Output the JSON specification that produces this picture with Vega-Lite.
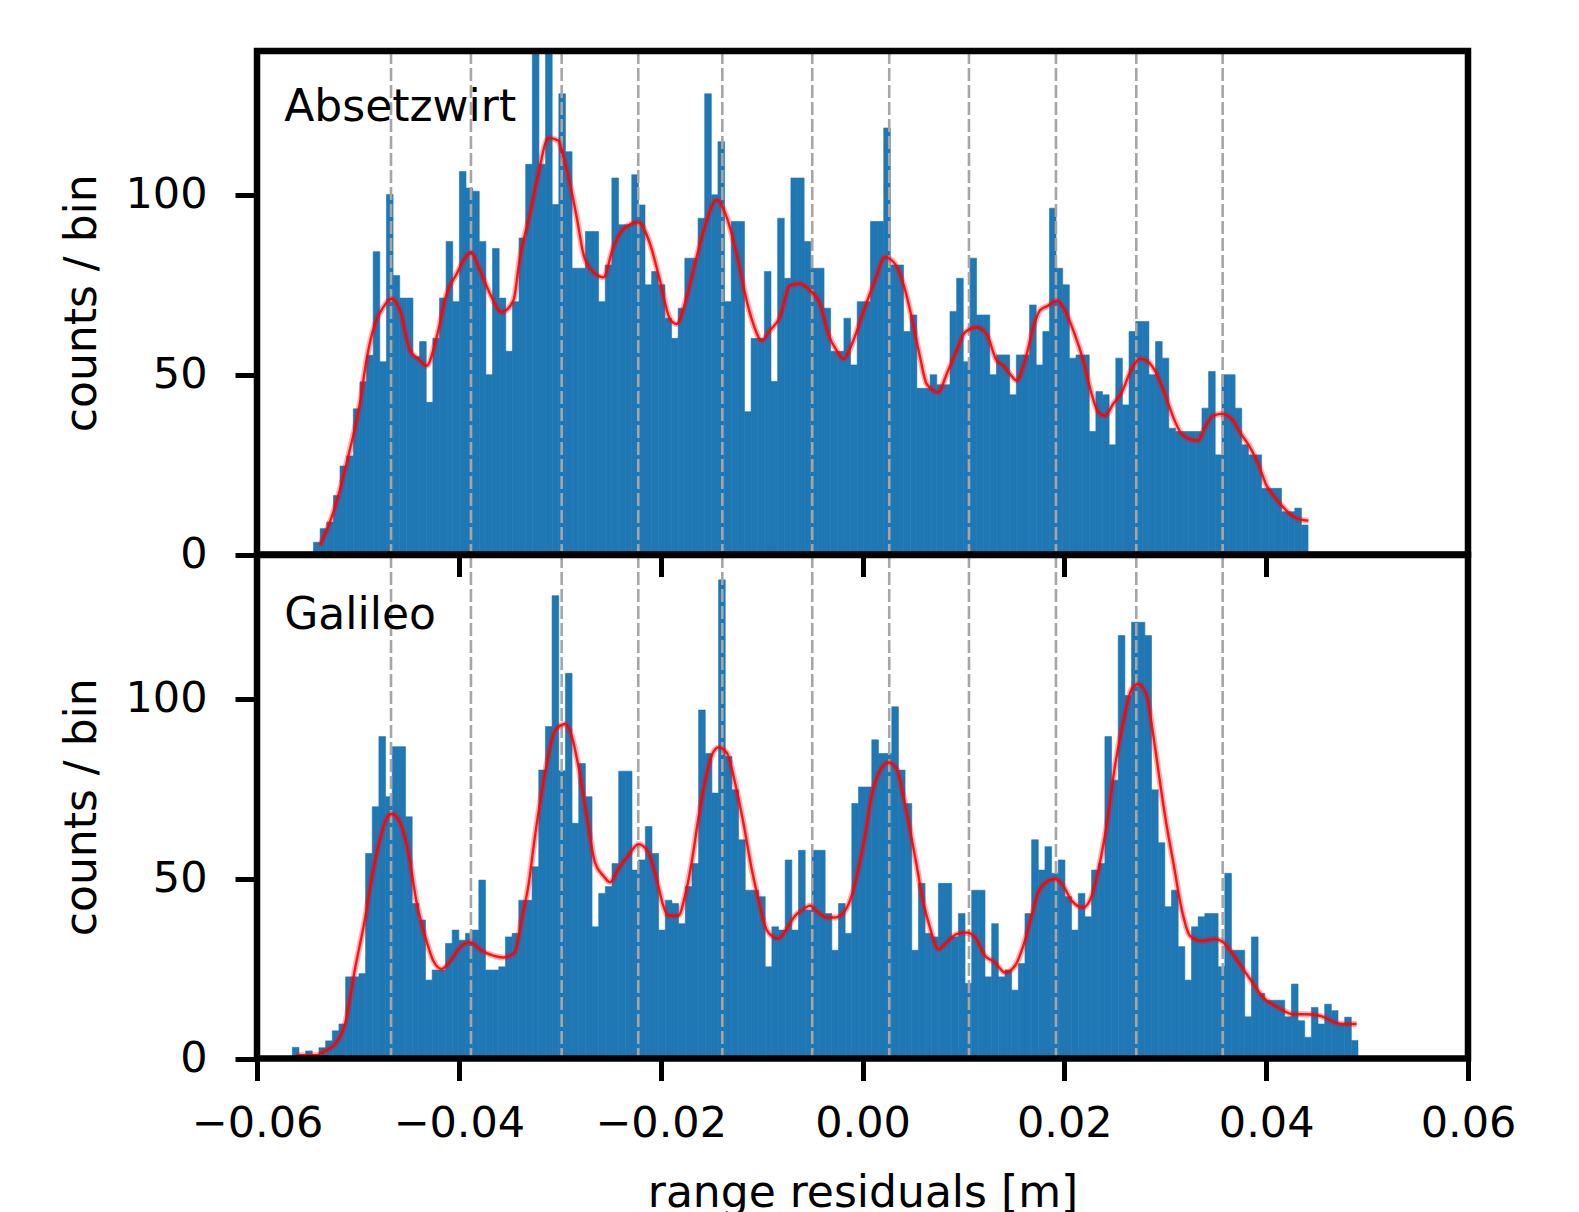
{
"$schema": "https://vega.github.io/schema/vega-lite/v6.json",
"background": "white",
"padding": {"left": 60, "top": 47, "right": 0, "bottom": 0},
"bounds": "flush",
"spacing": 0,
"config": {
  "view": {"stroke": null},
  "font": "DejaVu Sans",
  "axis": {"labelFont": "DejaVu Sans", "titleFont": "DejaVu Sans", "labelFontSize": 43, "titleFontSize": 44, "labelColor": "black", "titleColor": "black", "tickColor": "black", "tickWidth": 5, "tickSize": 22, "domain": false, "grid": false, "titleFontWeight": "normal", "zindex": 1, "labelFlush": false, "labelOverlap": false}
},
"datasets": {
"vlines": [{"r": -0.04672}, {"r": -0.0388}, {"r": -0.02981}, {"r": -0.02222}, {"r": -0.01389}, {"r": -0.00498}, {"r": 0.00265}, {"r": 0.01055}, {"r": 0.01917}, {"r": 0.02713}, {"r": 0.03569}],
"top_bars": [
{"lo":-0.0544,"hi":-0.053743,"n":3.4},{"lo":-0.053743,"hi":-0.053086,"n":7.2},{"lo":-0.053086,"hi":-0.052429,"n":9},{"lo":-0.052429,"hi":-0.051772,"n":16.4},{"lo":-0.051772,"hi":-0.051115,"n":24.6},{"lo":-0.051115,"hi":-0.050458,"n":27.4},{"lo":-0.050458,"hi":-0.049801,"n":40.5},{"lo":-0.049801,"hi":-0.049144,"n":48},{"lo":-0.049144,"hi":-0.048487,"n":55.4},{"lo":-0.048487,"hi":-0.04783,"n":84.2},
{"lo":-0.04783,"hi":-0.047173,"n":53.6},{"lo":-0.047173,"hi":-0.046516,"n":100.1},{"lo":-0.046516,"hi":-0.045859,"n":77.6},{"lo":-0.045859,"hi":-0.045202,"n":71.3},{"lo":-0.045202,"hi":-0.044545,"n":71.3},{"lo":-0.044545,"hi":-0.043888,"n":55},{"lo":-0.043888,"hi":-0.043231,"n":59.2},{"lo":-0.043231,"hi":-0.042574,"n":42.3},{"lo":-0.042574,"hi":-0.041917,"n":60.1},{"lo":-0.041917,"hi":-0.04126,"n":71.3},
{"lo":-0.04126,"hi":-0.040603,"n":87},{"lo":-0.040603,"hi":-0.039946,"n":70.3},{"lo":-0.039946,"hi":-0.039289,"n":106.5},{"lo":-0.039289,"hi":-0.038632,"n":101.9},{"lo":-0.038632,"hi":-0.037975,"n":101},{"lo":-0.037975,"hi":-0.037318,"n":87},{"lo":-0.037318,"hi":-0.036661,"n":50},{"lo":-0.036661,"hi":-0.036004,"n":85.1},{"lo":-0.036004,"hi":-0.035347,"n":71.3},{"lo":-0.035347,"hi":-0.03469,"n":56.5},
{"lo":-0.03469,"hi":-0.034033,"n":70.3},{"lo":-0.034033,"hi":-0.033376,"n":88},{"lo":-0.033376,"hi":-0.032719,"n":108.5},{"lo":-0.032719,"hi":-0.032062,"n":140},{"lo":-0.032062,"hi":-0.031405,"n":108.5},{"lo":-0.031405,"hi":-0.030748,"n":140},{"lo":-0.030748,"hi":-0.030091,"n":97.3},{"lo":-0.030091,"hi":-0.029434,"n":128.1},{"lo":-0.029434,"hi":-0.028777,"n":112},{"lo":-0.028777,"hi":-0.02812,"n":79.6},
{"lo":-0.02812,"hi":-0.027463,"n":79.6},{"lo":-0.027463,"hi":-0.026806,"n":89.8},{"lo":-0.026806,"hi":-0.026149,"n":89.8},{"lo":-0.026149,"hi":-0.025492,"n":70.3},{"lo":-0.025492,"hi":-0.024835,"n":80.5},{"lo":-0.024835,"hi":-0.024178,"n":104.7},{"lo":-0.024178,"hi":-0.023521,"n":91.7},{"lo":-0.023521,"hi":-0.022864,"n":91.7},{"lo":-0.022864,"hi":-0.022207,"n":105.6},{"lo":-0.022207,"hi":-0.02155,"n":97.2},
{"lo":-0.02155,"hi":-0.020893,"n":75},{"lo":-0.020893,"hi":-0.020236,"n":78.7},{"lo":-0.020236,"hi":-0.019579,"n":75},{"lo":-0.019579,"hi":-0.018922,"n":65.7},{"lo":-0.018922,"hi":-0.018265,"n":60.1},{"lo":-0.018265,"hi":-0.017608,"n":68.5},{"lo":-0.017608,"hi":-0.016951,"n":82.4},{"lo":-0.016951,"hi":-0.016294,"n":82.4},{"lo":-0.016294,"hi":-0.015637,"n":93.5},{"lo":-0.015637,"hi":-0.01498,"n":128.1},
{"lo":-0.01498,"hi":-0.014323,"n":100},{"lo":-0.014323,"hi":-0.013666,"n":114.8},{"lo":-0.013666,"hi":-0.013009,"n":70.3},{"lo":-0.013009,"hi":-0.012352,"n":92.6},{"lo":-0.012352,"hi":-0.011695,"n":92.6},{"lo":-0.011695,"hi":-0.011038,"n":39.7},{"lo":-0.011038,"hi":-0.010381,"n":60.1},{"lo":-0.010381,"hi":-0.009724,"n":60.1},{"lo":-0.009724,"hi":-0.009067,"n":78.7},{"lo":-0.009067,"hi":-0.00841,"n":48.1},
{"lo":-0.00841,"hi":-0.007753,"n":93.5},{"lo":-0.007753,"hi":-0.007096,"n":76.8},{"lo":-0.007096,"hi":-0.006439,"n":104.7},{"lo":-0.006439,"hi":-0.005782,"n":104.7},{"lo":-0.005782,"hi":-0.005125,"n":87},{"lo":-0.005125,"hi":-0.004468,"n":79.6},{"lo":-0.004468,"hi":-0.003811,"n":79.6},{"lo":-0.003811,"hi":-0.003154,"n":68.5},{"lo":-0.003154,"hi":-0.002497,"n":56.5},{"lo":-0.002497,"hi":-0.00184,"n":56.5},
{"lo":-0.00184,"hi":-0.001183,"n":65.7},{"lo":-0.001183,"hi":-0.000526,"n":52.7},{"lo":-0.000526,"hi":0.000131,"n":70.3},{"lo":0.000131,"hi":0.000788,"n":70.3},{"lo":0.000788,"hi":0.001445,"n":92.6},{"lo":0.001445,"hi":0.002102,"n":92.6},{"lo":0.002102,"hi":0.002759,"n":118.6},{"lo":0.002759,"hi":0.003416,"n":80.5},{"lo":0.003416,"hi":0.004073,"n":80.5},{"lo":0.004073,"hi":0.00473,"n":62},
{"lo":0.00473,"hi":0.005387,"n":66.6},{"lo":0.005387,"hi":0.006044,"n":46.2},{"lo":0.006044,"hi":0.006701,"n":46.2},{"lo":0.006701,"hi":0.007358,"n":50},{"lo":0.007358,"hi":0.008015,"n":47.2},{"lo":0.008015,"hi":0.008672,"n":47.2},{"lo":0.008672,"hi":0.009329,"n":67.6},{"lo":0.009329,"hi":0.009986,"n":76.8},{"lo":0.009986,"hi":0.010643,"n":53.6},{"lo":0.010643,"hi":0.0113,"n":82.4},
{"lo":0.0113,"hi":0.011957,"n":66.6},{"lo":0.011957,"hi":0.012614,"n":66.6},{"lo":0.012614,"hi":0.013271,"n":50},{"lo":0.013271,"hi":0.013928,"n":55.5},{"lo":0.013928,"hi":0.014585,"n":55.5},{"lo":0.014585,"hi":0.015242,"n":44.4},{"lo":0.015242,"hi":0.015899,"n":55.5},{"lo":0.015899,"hi":0.016556,"n":55.5},{"lo":0.016556,"hi":0.017213,"n":69.4},{"lo":0.017213,"hi":0.01787,"n":52.7},
{"lo":0.01787,"hi":0.018527,"n":62},{"lo":0.018527,"hi":0.019184,"n":96.3},{"lo":0.019184,"hi":0.019841,"n":79.6},{"lo":0.019841,"hi":0.020498,"n":75},{"lo":0.020498,"hi":0.021155,"n":54.6},{"lo":0.021155,"hi":0.021812,"n":55.5},{"lo":0.021812,"hi":0.022469,"n":55.5},{"lo":0.022469,"hi":0.023126,"n":34.2},{"lo":0.023126,"hi":0.023783,"n":45.3},{"lo":0.023783,"hi":0.02444,"n":44.4},
{"lo":0.02444,"hi":0.025097,"n":30.5},{"lo":0.025097,"hi":0.025754,"n":54.6},{"lo":0.025754,"hi":0.026411,"n":41.6},{"lo":0.026411,"hi":0.027068,"n":62},{"lo":0.027068,"hi":0.027725,"n":64.8},{"lo":0.027725,"hi":0.028382,"n":64.8},{"lo":0.028382,"hi":0.029039,"n":50},{"lo":0.029039,"hi":0.029696,"n":59.2},{"lo":0.029696,"hi":0.030353,"n":54.6},{"lo":0.030353,"hi":0.03101,"n":35.1},
{"lo":0.03101,"hi":0.031667,"n":34.2},{"lo":0.031667,"hi":0.032324,"n":34.2},{"lo":0.032324,"hi":0.032981,"n":34.2},{"lo":0.032981,"hi":0.033638,"n":34.2},{"lo":0.033638,"hi":0.034295,"n":40.7},{"lo":0.034295,"hi":0.034952,"n":50.9},{"lo":0.034952,"hi":0.035609,"n":27.7},{"lo":0.035609,"hi":0.036266,"n":50},{"lo":0.036266,"hi":0.036923,"n":50},{"lo":0.036923,"hi":0.03758,"n":40.7},
{"lo":0.03758,"hi":0.038237,"n":30.5},{"lo":0.038237,"hi":0.038894,"n":27.7},{"lo":0.038894,"hi":0.039551,"n":27.7},{"lo":0.039551,"hi":0.040208,"n":18.4},{"lo":0.040208,"hi":0.040865,"n":18.4},{"lo":0.040865,"hi":0.041522,"n":18.4},{"lo":0.041522,"hi":0.042179,"n":11.9},{"lo":0.042179,"hi":0.042836,"n":11.9},{"lo":0.042836,"hi":0.043493,"n":12.9},{"lo":0.043493,"hi":0.04415,"n":8.2}
],
"bot_bars": [
{"lo":-0.0565,"hi":-0.05584,"n":3.1},{"lo":-0.05584,"hi":-0.05518,"n":0},{"lo":-0.05518,"hi":-0.05452,"n":2.1},{"lo":-0.05452,"hi":-0.05386,"n":1},{"lo":-0.05386,"hi":-0.0532,"n":3},{"lo":-0.0532,"hi":-0.05254,"n":4.9},{"lo":-0.05254,"hi":-0.05188,"n":7.7},{"lo":-0.05188,"hi":-0.05122,"n":9.6},{"lo":-0.05122,"hi":-0.05056,"n":22.7},{"lo":-0.05056,"hi":-0.0499,"n":22.7},
{"lo":-0.0499,"hi":-0.04924,"n":23.6},{"lo":-0.04924,"hi":-0.04858,"n":57},{"lo":-0.04858,"hi":-0.04792,"n":70},{"lo":-0.04792,"hi":-0.04726,"n":89.5},{"lo":-0.04726,"hi":-0.0466,"n":72.8},{"lo":-0.0466,"hi":-0.04594,"n":86.7},{"lo":-0.04594,"hi":-0.04528,"n":86.7},{"lo":-0.04528,"hi":-0.04462,"n":67.2},{"lo":-0.04462,"hi":-0.04396,"n":43.1},{"lo":-0.04396,"hi":-0.0433,"n":38.5},
{"lo":-0.0433,"hi":-0.04264,"n":21.8},{"lo":-0.04264,"hi":-0.04198,"n":24.6},{"lo":-0.04198,"hi":-0.04132,"n":24.6},{"lo":-0.04132,"hi":-0.04066,"n":32},{"lo":-0.04066,"hi":-0.04,"n":35.7},{"lo":-0.04,"hi":-0.03934,"n":32.9},{"lo":-0.03934,"hi":-0.03868,"n":34.8},{"lo":-0.03868,"hi":-0.03802,"n":35.7},{"lo":-0.03802,"hi":-0.03736,"n":49.6},{"lo":-0.03736,"hi":-0.0367,"n":24.6},
{"lo":-0.0367,"hi":-0.03604,"n":24.6},{"lo":-0.03604,"hi":-0.03538,"n":25.5},{"lo":-0.03538,"hi":-0.03472,"n":33.8},{"lo":-0.03472,"hi":-0.03406,"n":34.8},{"lo":-0.03406,"hi":-0.0334,"n":44},{"lo":-0.0334,"hi":-0.03274,"n":44},{"lo":-0.03274,"hi":-0.03208,"n":53.3},{"lo":-0.03208,"hi":-0.03142,"n":80.2},{"lo":-0.03142,"hi":-0.03076,"n":92.3},{"lo":-0.03076,"hi":-0.0301,"n":128.7},
{"lo":-0.0301,"hi":-0.02944,"n":80},{"lo":-0.02944,"hi":-0.02878,"n":107.1},{"lo":-0.02878,"hi":-0.02812,"n":65.4},{"lo":-0.02812,"hi":-0.02746,"n":82},{"lo":-0.02746,"hi":-0.0268,"n":72.8},{"lo":-0.0268,"hi":-0.02614,"n":36.6},{"lo":-0.02614,"hi":-0.02548,"n":45.9},{"lo":-0.02548,"hi":-0.02482,"n":47.8},{"lo":-0.02482,"hi":-0.02416,"n":54.2},{"lo":-0.02416,"hi":-0.0235,"n":79.9},
{"lo":-0.0235,"hi":-0.02284,"n":79.9},{"lo":-0.02284,"hi":-0.02218,"n":52.4},{"lo":-0.02218,"hi":-0.02152,"n":55.2},{"lo":-0.02152,"hi":-0.02086,"n":64.5},{"lo":-0.02086,"hi":-0.0202,"n":57},{"lo":-0.0202,"hi":-0.01954,"n":35.7},{"lo":-0.01954,"hi":-0.01888,"n":44},{"lo":-0.01888,"hi":-0.01822,"n":43.1},{"lo":-0.01822,"hi":-0.01756,"n":37.5},{"lo":-0.01756,"hi":-0.0169,"n":47.8},
{"lo":-0.0169,"hi":-0.01624,"n":54.2},{"lo":-0.01624,"hi":-0.01558,"n":96.9},{"lo":-0.01558,"hi":-0.01492,"n":84.8},{"lo":-0.01492,"hi":-0.01426,"n":73.8},{"lo":-0.01426,"hi":-0.0136,"n":133.1},{"lo":-0.0136,"hi":-0.01294,"n":84},{"lo":-0.01294,"hi":-0.01228,"n":74.7},{"lo":-0.01228,"hi":-0.01162,"n":60.8},{"lo":-0.01162,"hi":-0.01096,"n":46.8},{"lo":-0.01096,"hi":-0.0103,"n":46.8},
{"lo":-0.0103,"hi":-0.00964,"n":45},{"lo":-0.00964,"hi":-0.00898,"n":25.5},{"lo":-0.00898,"hi":-0.00832,"n":36.6},{"lo":-0.00832,"hi":-0.00766,"n":35.7},{"lo":-0.00766,"hi":-0.007,"n":55.2},{"lo":-0.007,"hi":-0.00634,"n":35.7},{"lo":-0.00634,"hi":-0.00568,"n":57.9},{"lo":-0.00568,"hi":-0.00502,"n":41.3},{"lo":-0.00502,"hi":-0.00436,"n":57.9},{"lo":-0.00436,"hi":-0.0037,"n":57.9},
{"lo":-0.0037,"hi":-0.00304,"n":40.3},{"lo":-0.00304,"hi":-0.00238,"n":30.1},{"lo":-0.00238,"hi":-0.00172,"n":43.1},{"lo":-0.00172,"hi":-0.00106,"n":34.8},{"lo":-0.00106,"hi":-0.0004,"n":70.9},{"lo":-0.0004,"hi":0.00026,"n":75.5},{"lo":0.00026,"hi":0.00092,"n":75.5},{"lo":0.00092,"hi":0.00158,"n":88.6},{"lo":0.00158,"hi":0.00224,"n":84.8},{"lo":0.00224,"hi":0.0029,"n":84.8},
{"lo":0.0029,"hi":0.00356,"n":97.8},{"lo":0.00356,"hi":0.00422,"n":80.2},{"lo":0.00422,"hi":0.00488,"n":70.9},{"lo":0.00488,"hi":0.00554,"n":30.1},{"lo":0.00554,"hi":0.0062,"n":48.7},{"lo":0.0062,"hi":0.00686,"n":34.8},{"lo":0.00686,"hi":0.00752,"n":33.8},{"lo":0.00752,"hi":0.00818,"n":48.7},{"lo":0.00818,"hi":0.00884,"n":48.7},{"lo":0.00884,"hi":0.0095,"n":33.8},
{"lo":0.0095,"hi":0.01016,"n":40.3},{"lo":0.01016,"hi":0.01082,"n":20.9},{"lo":0.01082,"hi":0.01148,"n":46.8},{"lo":0.01148,"hi":0.01214,"n":46.8},{"lo":0.01214,"hi":0.0128,"n":22.7},{"lo":0.0128,"hi":0.01346,"n":37.5},{"lo":0.01346,"hi":0.01412,"n":22.7},{"lo":0.01412,"hi":0.01478,"n":24.6},{"lo":0.01478,"hi":0.01544,"n":19},{"lo":0.01544,"hi":0.0161,"n":26.4},
{"lo":0.0161,"hi":0.01676,"n":40.3},{"lo":0.01676,"hi":0.01742,"n":60.8},{"lo":0.01742,"hi":0.01808,"n":52.4},{"lo":0.01808,"hi":0.01874,"n":58.9},{"lo":0.01874,"hi":0.0194,"n":51.5},{"lo":0.0194,"hi":0.02006,"n":55.2},{"lo":0.02006,"hi":0.02072,"n":45},{"lo":0.02072,"hi":0.02138,"n":35.7},{"lo":0.02138,"hi":0.02204,"n":45.9},{"lo":0.02204,"hi":0.0227,"n":39.4},
{"lo":0.0227,"hi":0.02336,"n":52.4},{"lo":0.02336,"hi":0.02402,"n":54.2},{"lo":0.02402,"hi":0.02468,"n":89.5},{"lo":0.02468,"hi":0.02534,"n":77.4},{"lo":0.02534,"hi":0.026,"n":117.6},{"lo":0.026,"hi":0.02666,"n":100.9},{"lo":0.02666,"hi":0.02732,"n":121.3},{"lo":0.02732,"hi":0.02798,"n":121.3},{"lo":0.02798,"hi":0.02864,"n":117.6},{"lo":0.02864,"hi":0.0293,"n":74.7},
{"lo":0.0293,"hi":0.02996,"n":60},{"lo":0.02996,"hi":0.03062,"n":42.2},{"lo":0.03062,"hi":0.03128,"n":46.8},{"lo":0.03128,"hi":0.03194,"n":31.1},{"lo":0.03194,"hi":0.0326,"n":21.8},{"lo":0.0326,"hi":0.03326,"n":36.6},{"lo":0.03326,"hi":0.03392,"n":39.4},{"lo":0.03392,"hi":0.03458,"n":40.3},{"lo":0.03458,"hi":0.03524,"n":40.3},{"lo":0.03524,"hi":0.0359,"n":25.5},
{"lo":0.0359,"hi":0.03656,"n":51.5},{"lo":0.03656,"hi":0.03722,"n":30.1},{"lo":0.03722,"hi":0.03788,"n":30.1},{"lo":0.03788,"hi":0.03854,"n":11.6},{"lo":0.03854,"hi":0.0392,"n":33.8},{"lo":0.0392,"hi":0.03986,"n":18.1},{"lo":0.03986,"hi":0.04052,"n":16.2},{"lo":0.04052,"hi":0.04118,"n":16.2},{"lo":0.04118,"hi":0.04184,"n":16.2},{"lo":0.04184,"hi":0.0425,"n":11.6},
{"lo":0.0425,"hi":0.04316,"n":20.7},{"lo":0.04316,"hi":0.04382,"n":10.5},{"lo":0.04382,"hi":0.04448,"n":5.9},{"lo":0.04448,"hi":0.04514,"n":14.2},{"lo":0.04514,"hi":0.0458,"n":9.6},{"lo":0.0458,"hi":0.04646,"n":15.1},{"lo":0.04646,"hi":0.04712,"n":13.3},{"lo":0.04712,"hi":0.04778,"n":9.6},{"lo":0.04778,"hi":0.04844,"n":11.5},{"lo":0.04844,"hi":0.0491,"n":5}
],
"top_kde": [
{"r":-0.05376,"n":2.5},{"r":-0.05244,"n":11.7},{"r":-0.05111,"n":25.6},{"r":-0.04979,"n":42.3},{"r":-0.04913,"n":54.4},{"r":-0.04831,"n":64.1},{"r":-0.04748,"n":68.8},{"r":-0.04666,"n":71.1},{"r":-0.04583,"n":67.9},{"r":-0.04484,"n":56.7},{"r":-0.04401,"n":54.4},{"r":-0.04319,"n":52.5},{"r":-0.0422,"n":60.4},{"r":-0.04121,"n":72.5},{"r":-0.04022,"n":78},{"r":-0.03922,"n":83.1},{"r":-0.0388,"n":84},{"r":-0.0379,"n":79},{"r":-0.03691,"n":72.5},{"r":-0.03576,"n":67.4},{"r":-0.0346,"n":70.6},{"r":-0.03394,"n":82.7},{"r":-0.03295,"n":94.7},{"r":-0.03212,"n":105.9},{"r":-0.03113,"n":115.8},{"r":-0.03014,"n":115.1},{"r":-0.02981,"n":112.4},{"r":-0.02899,"n":103.1},{"r":-0.02832,"n":93.8},{"r":-0.02766,"n":83.6},{"r":-0.02684,"n":79},{"r":-0.02568,"n":77.1},{"r":-0.02469,"n":85.5},{"r":-0.0237,"n":90.5},{"r":-0.02221,"n":92.4},{"r":-0.02106,"n":86.4},{"r":-0.02007,"n":76.2},{"r":-0.01908,"n":65.5},{"r":-0.01842,"n":64.1},{"r":-0.01743,"n":71.5},{"r":-0.01643,"n":82.8},{"r":-0.01544,"n":92.8},{"r":-0.01445,"n":98.6},{"r":-0.01346,"n":93.8},{"r":-0.01247,"n":83.6},{"r":-0.01148,"n":70.6},{"r":-0.01082,"n":64.1},{"r":-0.00999,"n":59.5},{"r":-0.00917,"n":62.3},{"r":-0.00818,"n":66},{"r":-0.00719,"n":74.8},{"r":-0.0062,"n":75.3},{"r":-0.0052,"n":73.4},{"r":-0.00421,"n":69.7},{"r":-0.00339,"n":61.3},{"r":-0.00256,"n":56.7},{"r":-0.0019,"n":54.4},{"r":-0.00091,"n":59.5},{"r":0.00025,"n":68.8},{"r":0.00124,"n":76.2},{"r":0.00223,"n":82.7},{"r":0.00322,"n":80.8},{"r":0.00404,"n":75.3},{"r":0.00487,"n":66},{"r":0.0057,"n":54.9},{"r":0.00636,"n":47.4},{"r":0.00751,"n":45.1},{"r":0.00834,"n":50.2},{"r":0.00933,"n":56.7},{"r":0.01016,"n":61.8},{"r":0.01131,"n":63.2},{"r":0.0123,"n":61.3},{"r":0.01329,"n":53.9},{"r":0.01395,"n":52.5},{"r":0.01461,"n":50.2},{"r":0.01527,"n":48.4},{"r":0.0161,"n":53.9},{"r":0.01693,"n":63.2},{"r":0.01759,"n":67.9},{"r":0.01841,"n":69.2},{"r":0.01924,"n":70.6},{"r":0.02006,"n":67.9},{"r":0.02089,"n":62.3},{"r":0.02188,"n":53.9},{"r":0.02271,"n":44.6},{"r":0.02337,"n":39.5},{"r":0.02403,"n":38.6},{"r":0.02485,"n":41.9},{"r":0.02568,"n":45.1},{"r":0.02667,"n":51.6},{"r":0.0275,"n":54.4},{"r":0.02816,"n":53.9},{"r":0.02898,"n":51.1},{"r":0.02997,"n":44.6},{"r":0.0308,"n":38.1},{"r":0.03162,"n":33.5},{"r":0.03245,"n":32.1},{"r":0.03328,"n":31.7},{"r":0.03394,"n":35.4},{"r":0.03476,"n":38.6},{"r":0.03559,"n":39.1},{"r":0.03658,"n":37.7},{"r":0.0374,"n":34},{"r":0.0384,"n":29.8},{"r":0.03922,"n":25.2},{"r":0.04005,"n":19.1},{"r":0.04087,"n":15.9},{"r":0.0417,"n":13.1},{"r":0.04236,"n":11.3},{"r":0.04318,"n":9.9},{"r":0.04418,"n":9.4}
],
"bot_kde": [
{"r":-0.05607,"n":0.9},{"r":-0.05409,"n":0.9},{"r":-0.05326,"n":2.1},{"r":-0.05227,"n":4},{"r":-0.05128,"n":9.6},{"r":-0.05029,"n":24.9},{"r":-0.0493,"n":38.8},{"r":-0.04864,"n":49.9},{"r":-0.04781,"n":61},{"r":-0.04699,"n":67.5},{"r":-0.04666,"n":68},{"r":-0.046,"n":66.6},{"r":-0.045,"n":57.3},{"r":-0.04418,"n":43.4},{"r":-0.04335,"n":34.1},{"r":-0.04253,"n":27.2},{"r":-0.0417,"n":24.9},{"r":-0.04071,"n":27.6},{"r":-0.03989,"n":30.9},{"r":-0.03889,"n":32.3},{"r":-0.03774,"n":30},{"r":-0.03658,"n":28.6},{"r":-0.03559,"n":28.1},{"r":-0.03444,"n":29.5},{"r":-0.03377,"n":38.8},{"r":-0.03311,"n":48},{"r":-0.03245,"n":61.9},{"r":-0.03179,"n":74},{"r":-0.03113,"n":84.2},{"r":-0.03047,"n":91.2},{"r":-0.02948,"n":93},{"r":-0.02882,"n":89.8},{"r":-0.02816,"n":81.4},{"r":-0.02733,"n":67.5},{"r":-0.02651,"n":54.5},{"r":-0.02568,"n":50.8},{"r":-0.02502,"n":49},{"r":-0.0242,"n":52.7},{"r":-0.02321,"n":56.4},{"r":-0.02221,"n":59.6},{"r":-0.02122,"n":57.3},{"r":-0.0204,"n":49.9},{"r":-0.01974,"n":42.5},{"r":-0.01924,"n":39.7},{"r":-0.01825,"n":39.7},{"r":-0.01759,"n":45.2},{"r":-0.01693,"n":54.5},{"r":-0.01627,"n":66.6},{"r":-0.01561,"n":76.8},{"r":-0.01495,"n":84.2},{"r":-0.01429,"n":86.5},{"r":-0.01346,"n":85.1},{"r":-0.01264,"n":76.8},{"r":-0.01181,"n":65.6},{"r":-0.01098,"n":52.7},{"r":-0.01032,"n":44.3},{"r":-0.00966,"n":36.9},{"r":-0.009,"n":34.1},{"r":-0.00834,"n":33.4},{"r":-0.00752,"n":36},{"r":-0.00669,"n":39.7},{"r":-0.00603,"n":41.1},{"r":-0.0052,"n":42.5},{"r":-0.00438,"n":40.6},{"r":-0.00355,"n":39.2},{"r":-0.00273,"n":39.2},{"r":-0.00174,"n":41.1},{"r":-0.00108,"n":45.2},{"r":-0.00041,"n":52.7},{"r":0.00025,"n":61.9},{"r":0.00091,"n":73.1},{"r":0.00173,"n":80},{"r":0.00256,"n":82.3},{"r":0.00338,"n":80.5},{"r":0.00404,"n":73.1},{"r":0.0047,"n":63.8},{"r":0.00537,"n":53.6},{"r":0.00603,"n":43.4},{"r":0.00669,"n":36.4},{"r":0.00751,"n":30.4},{"r":0.00834,"n":32.3},{"r":0.00933,"n":34.6},{"r":0.01032,"n":35},{"r":0.01115,"n":33.7},{"r":0.01214,"n":28.6},{"r":0.01313,"n":26.7},{"r":0.01412,"n":23.9},{"r":0.01511,"n":25.8},{"r":0.01594,"n":31.4},{"r":0.01676,"n":39.7},{"r":0.01742,"n":46.2},{"r":0.01841,"n":49.4},{"r":0.01907,"n":49.9},{"r":0.0199,"n":48},{"r":0.02072,"n":43.9},{"r":0.02188,"n":42},{"r":0.02271,"n":45.2},{"r":0.02353,"n":54.5},{"r":0.02419,"n":64.7},{"r":0.02502,"n":81.4},{"r":0.02584,"n":93.5},{"r":0.02667,"n":102.7},{"r":0.02733,"n":104.1},{"r":0.02816,"n":100.9},{"r":0.02882,"n":89.8},{"r":0.02948,"n":76.8},{"r":0.03014,"n":64.7},{"r":0.0308,"n":54.5},{"r":0.03162,"n":41.6},{"r":0.03245,"n":34.1},{"r":0.03361,"n":32.7},{"r":0.03493,"n":33.2},{"r":0.03575,"n":32.3},{"r":0.03658,"n":29.5},{"r":0.0374,"n":26.2},{"r":0.0384,"n":22.1},{"r":0.03988,"n":16.5},{"r":0.0412,"n":14.2},{"r":0.04269,"n":12.3},{"r":0.04384,"n":12.3},{"r":0.04533,"n":11.9},{"r":0.04682,"n":10},{"r":0.04781,"n":9.6},{"r":0.04896,"n":9.6}
]
},
"vconcat": [
{
  "width": 1211, "height": 503.5,
  "layer": [
    {"data": {"name": "top_bars"},
     "mark": {"type": "rect", "color": "#1f77b4", "stroke": "#1f77b4", "strokeWidth": 0.6},
     "encoding": {
       "x": {"field": "lo", "type": "quantitative", "scale": {"domain": [-0.06, 0.06], "nice": false, "zero": false},
             "axis": {"values": [-0.06, -0.04, -0.02, 0, 0.02, 0.04, 0.06], "labels": false, "title": null, "orient": "bottom"}},
       "x2": {"field": "hi"},
       "y": {"field": "n", "type": "quantitative", "scale": {"domain": [0, 140], "nice": false},
             "axis": {"values": [0, 50, 100], "format": "d", "title": "counts / bin", "labelPadding": 28, "titlePadding": 20}},
       "y2": {"datum": 0}
     }},
    {"data": {"name": "vlines"},
     "mark": {"type": "rule", "color": "#a6a6a6", "strokeWidth": 2.6, "strokeDash": [13, 4]},
     "encoding": {"x": {"field": "r", "type": "quantitative", "scale": {"domain": [-0.06, 0.06], "nice": false, "zero": false}}}},
    {"data": {"name": "top_kde"},
     "mark": {"type": "line", "color": "#ff0000", "strokeWidth": 6, "opacity": 0.3, "interpolate": "monotone"},
     "encoding": {"x": {"field": "r", "type": "quantitative", "scale": {"domain": [-0.06, 0.06], "nice": false, "zero": false}},
                  "y": {"field": "n", "type": "quantitative", "scale": {"domain": [0, 140], "nice": false}}}},
    {"data": {"name": "top_kde"},
     "mark": {"type": "line", "color": "#ff0000", "strokeWidth": 2.4, "opacity": 0.9, "interpolate": "monotone"},
     "encoding": {"x": {"field": "r", "type": "quantitative", "scale": {"domain": [-0.06, 0.06], "nice": false, "zero": false}},
                  "y": {"field": "n", "type": "quantitative", "scale": {"domain": [0, 140], "nice": false}}}},
    {"data": {"values": [{}]},
     "mark": {"type": "rect", "filled": false, "color": "black", "strokeWidth": 6.5},
     "encoding": {"x": {"datum": -0.06, "type": "quantitative"}, "x2": {"datum": 0.06},
                  "y": {"datum": 0, "type": "quantitative"}, "y2": {"datum": 140}}},
    {"data": {"values": [{}]},
     "mark": {"type": "text", "text": "Absetzwirt", "align": "left", "baseline": "alphabetic", "font": "DejaVu Sans", "fontSize": 44, "color": "black"},
     "encoding": {"x": {"datum": -0.0573, "type": "quantitative"}, "y": {"datum": 120.5, "type": "quantitative"}}}
  ]
},
{
  "width": 1211, "height": 503.5,
  "layer": [
    {"data": {"name": "bot_bars"},
     "mark": {"type": "rect", "color": "#1f77b4", "stroke": "#1f77b4", "strokeWidth": 0.6},
     "encoding": {
       "x": {"field": "lo", "type": "quantitative", "scale": {"domain": [-0.06, 0.06], "nice": false, "zero": false},
             "axis": {"values": [-0.06, -0.04, -0.02, 0, 0.02, 0.04, 0.06], "format": ".2f", "title": "range residuals [m]", "labelPadding": 22, "titlePadding": 26, "orient": "bottom"}},
       "x2": {"field": "hi"},
       "y": {"field": "n", "type": "quantitative", "scale": {"domain": [0, 140], "nice": false},
             "axis": {"values": [0, 50, 100], "format": "d", "title": "counts / bin", "labelPadding": 28, "titlePadding": 20}},
       "y2": {"datum": 0}
     }},
    {"data": {"name": "vlines"},
     "mark": {"type": "rule", "color": "#a6a6a6", "strokeWidth": 2.6, "strokeDash": [13, 4]},
     "encoding": {"x": {"field": "r", "type": "quantitative", "scale": {"domain": [-0.06, 0.06], "nice": false, "zero": false}}}},
    {"data": {"name": "bot_kde"},
     "mark": {"type": "line", "color": "#ff0000", "strokeWidth": 6, "opacity": 0.3, "interpolate": "monotone"},
     "encoding": {"x": {"field": "r", "type": "quantitative", "scale": {"domain": [-0.06, 0.06], "nice": false, "zero": false}},
                  "y": {"field": "n", "type": "quantitative", "scale": {"domain": [0, 140], "nice": false}}}},
    {"data": {"name": "bot_kde"},
     "mark": {"type": "line", "color": "#ff0000", "strokeWidth": 2.4, "opacity": 0.9, "interpolate": "monotone"},
     "encoding": {"x": {"field": "r", "type": "quantitative", "scale": {"domain": [-0.06, 0.06], "nice": false, "zero": false}},
                  "y": {"field": "n", "type": "quantitative", "scale": {"domain": [0, 140], "nice": false}}}},
    {"data": {"values": [{}]},
     "mark": {"type": "rect", "filled": false, "color": "black", "strokeWidth": 6.5},
     "encoding": {"x": {"datum": -0.06, "type": "quantitative"}, "x2": {"datum": 0.06},
                  "y": {"datum": 0, "type": "quantitative"}, "y2": {"datum": 140}}},
    {"data": {"values": [{}]},
     "mark": {"type": "text", "text": "Galileo", "align": "left", "baseline": "alphabetic", "font": "DejaVu Sans", "fontSize": 44, "color": "black"},
     "encoding": {"x": {"datum": -0.0573, "type": "quantitative"}, "y": {"datum": 119.5, "type": "quantitative"}}}
  ]
}
]
}
